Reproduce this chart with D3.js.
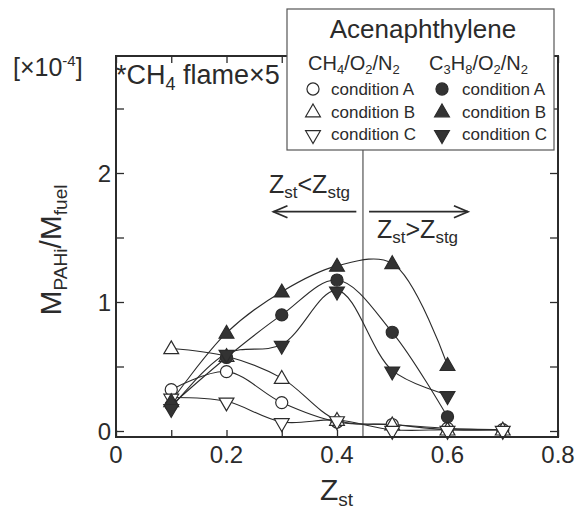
<!DOCTYPE html>
<html>
<head>
<meta charset="utf-8">
<script src="https://cdn.jsdelivr.net/npm/d3@7"></script>
<style>
  body { margin: 0; background: #fff; }
  svg text { font-family: "Liberation Sans", Arial, sans-serif; fill: #2b2b2b; }
</style>
</head>
<body>
<svg id="mainSvg" width="583" height="511"></svg>
<script>
// Z_st positions
const zst = [0.1, 0.2, 0.3, 0.4, 0.5, 0.6, 0.7];
// CH4/O2/N2 flames (open markers)
const ch4A = [0.32, 0.46, 0.22, 0.07, 0.05, 0.02, 0.01];
const ch4B = [0.64, 0.58, 0.41, 0.085, 0.05, 0.01, 0.01];
const ch4C = [0.26, 0.23, 0.07, 0.085, 0.01, 0.01, 0.01];
// C3H8/O2/N2 flames (filled markers)
const c3h8A = [0.20, 0.57, 0.90, 1.17, 0.765, 0.11];
const c3h8B = [0.23, 0.76, 1.08, 1.28, 1.30, 0.51];
const c3h8C = [0.18, 0.60, 0.67, 1.09, 0.47, 0.28];

const xTicks = [0, 0.2, 0.4, 0.6, 0.8];
const yTicks = [0, 1, 2];
const zStg = 0.447;

let canvas = d3.select("#mainSvg");
const ink = "#2b2b2b";

let x = d3.scaleLinear().domain([0, 0.8]).range([116, 558]);
let y = d3.scaleLinear().domain([-0.0465, 2.907]).range([437, 56]);

const series = [
    {vals: ch4A, shape: "circle", filled: false},
    {vals: ch4B, shape: "up", filled: false},
    {vals: ch4C, shape: "down", filled: false},
    {vals: c3h8A, shape: "circle", filled: true},
    {vals: c3h8B, shape: "up", filled: true},
    {vals: c3h8C, shape: "down", filled: true}
];

function symbolPath(shape) {
    if (shape === "circle") return d3.symbol().type(d3.symbolCircle).size(115)();
    return d3.symbol().type(d3.symbolTriangle).size(95)();
}

function drawMarker(g, shape, filled, cx, cy) {
    g.append("path")
        .attr("d", symbolPath(shape))
        .attr("transform", `translate(${cx},${cy})` + (shape === "down" ? " rotate(180)" : "") + (shape !== "circle" ? ` translate(0,${shape === "down" ? -1 : 1})` : ""))
        .attr("fill", filled ? "#333" : "#fff")
        .attr("stroke", ink)
        .attr("stroke-width", 1.2);
}

// frame ticks (inward on all four sides)
let xMinor = d3.range(0, 0.81, 0.1);
let yMinor = d3.range(0, 2.9, 0.5);

canvas.append("g")
    .attr("transform", `translate(0,${y.range()[0]})`)
    .call(d3.axisBottom(x).tickValues(xMinor).tickSize(-7).tickFormat(""))
    .call(g => g.select(".domain").remove());
canvas.append("g")
    .attr("transform", `translate(0,${y.range()[1]})`)
    .call(d3.axisTop(x).tickValues(xMinor).tickSize(-7).tickFormat(""))
    .call(g => g.select(".domain").remove());
canvas.append("g")
    .attr("transform", `translate(${x.range()[0]},0)`)
    .call(d3.axisLeft(y).tickValues(yMinor).tickSize(-8).tickFormat(""))
    .call(g => g.select(".domain").remove());
canvas.append("g")
    .attr("transform", `translate(${x.range()[1]},0)`)
    .call(d3.axisRight(y).tickValues(yMinor).tickSize(-8).tickFormat(""))
    .call(g => g.select(".domain").remove());
canvas.selectAll(".tick line").attr("stroke", ink).attr("stroke-width", 1.3);

// tick labels
canvas.selectAll(".xlab")
    .data(xTicks)
    .enter()
        .append("text")
        .attr("x", d => x(d))
        .attr("y", y.range()[0] + 26)
        .attr("text-anchor", "middle")
        .attr("font-size", 24)
        .text(d => d === 0 ? "0" : d3.format(".1f")(d));
canvas.selectAll(".ylab")
    .data(yTicks)
    .enter()
        .append("text")
        .attr("x", x.range()[0] - 5)
        .attr("y", d => y(d) + 9)
        .attr("text-anchor", "end")
        .attr("font-size", 24)
        .text(d => d);

// Z_stg line
canvas.append("line")
    .attr("x1", x(zStg)).attr("x2", x(zStg))
    .attr("y1", y.range()[0]).attr("y2", y.range()[1])
    .attr("stroke", "#444").attr("stroke-width", 1.1);

// curves
let line = d3.line()
    .x((d, i) => x(zst[i]))
    .y(d => y(d))
    .curve(d3.curveCatmullRom.alpha(0.5));

series.forEach(s => {
    canvas.append("path")
        .attr("d", line(s.vals))
        .attr("fill", "none")
        .attr("stroke", ink)
        .attr("stroke-width", 1.1);
});

// markers
let markers = canvas.append("g");
series.forEach(s => {
    s.vals.forEach((v, i) => drawMarker(markers, s.shape, s.filled, x(zst[i]), y(v)));
});

// frame
canvas.append("rect")
    .attr("x", x.range()[0]).attr("y", y.range()[1])
    .attr("width", x.range()[1] - x.range()[0])
    .attr("height", y.range()[0] - y.range()[1])
    .attr("fill", "none").attr("stroke", ink).attr("stroke-width", 2);

// arrows
function arrow(x1, x2, yy) {
    let dir = x2 > x1 ? 1 : -1;
    canvas.append("line")
        .attr("x1", x1).attr("x2", x2).attr("y1", yy).attr("y2", yy)
        .attr("stroke", ink).attr("stroke-width", 1.8);
    canvas.append("path")
        .attr("d", `M${x2 - dir * 14},${yy - 6}L${x2},${yy}L${x2 - dir * 14},${yy + 6}`)
        .attr("fill", "none").attr("stroke", ink).attr("stroke-width", 1.8);
}
arrow(x(0.435), x(0.285), y(1.70));
arrow(x(0.458), x(0.637), y(1.70));

// text with alternating normal / subscript parts
function subText(parent, parts, tx, ty, size, subSize, shift) {
    let t = parent.append("text").attr("x", tx).attr("y", ty).attr("font-size", size);
    let down = false;
    parts.forEach((p, i) => {
        let isSub = i % 2 === 1;
        if (p === "") return;
        let ts = t.append("tspan").text(p);
        if (isSub) {
            ts.attr("font-size", subSize);
            if (!down) { ts.attr("dy", shift); down = true; }
        } else if (down) {
            ts.attr("dy", -shift); down = false;
        }
    });
    return t;
}

subText(canvas, ["Z", "st", "<Z", "stg"], 269, 193, 25, 17, 5);
subText(canvas, ["Z", "st", ">Z", "stg"], 377, 238, 25, 17, 5);

// y axis title
subText(canvas, ["M", "PAHi", "/M", "fuel"], 0, 0, 30, 19, 6)
    .attr("transform", "translate(61,250) rotate(-90)")
    .attr("text-anchor", "middle");

// x axis title
subText(canvas, ["Z", "st"], 320, 500, 30, 19, 6);

// scale note
let sc = canvas.append("text").attr("x", 13).attr("y", 76).attr("font-size", 25);
sc.append("tspan").text("[×10");
sc.append("tspan").attr("font-size", 15).attr("dy", -10).text("-4");
sc.append("tspan").attr("dy", 10).text("]");

subText(canvas, ["*CH", "4", " flame×5"], 116, 84, 27, 18, 6);

// legend
let lg = canvas.append("g");
lg.append("rect")
    .attr("x", 287).attr("y", 9).attr("width", 267).attr("height", 141)
    .attr("fill", "#fff").attr("stroke", "#555").attr("stroke-width", 1.2);
lg.append("text").attr("x", 423).attr("y", 38).attr("text-anchor", "middle")
    .attr("font-size", 26).text("Acenaphthylene");

subText(lg, ["CH", "4", "/O", "2", "/N", "2"], 308, 70, 20, 13, 4);
subText(lg, ["C", "3", "H", "8", "/O", "2", "/N", "2"], 429, 70, 20, 13, 4);

const legendNames = ["condition A", "condition B", "condition C"];
const legendShapes = ["circle", "up", "down"];
legendNames.forEach((name, i) => {
    let ty = 95 + i * 22.5;
    drawMarker(lg, legendShapes[i], false, 313, ty - 6);
    drawMarker(lg, legendShapes[i], true, 442, ty - 6);
    lg.append("text").attr("x", 331).attr("y", ty).attr("font-size", 17).text(name);
    lg.append("text").attr("x", 462).attr("y", ty).attr("font-size", 17).text(name);
});
</script>
</body>
</html>
